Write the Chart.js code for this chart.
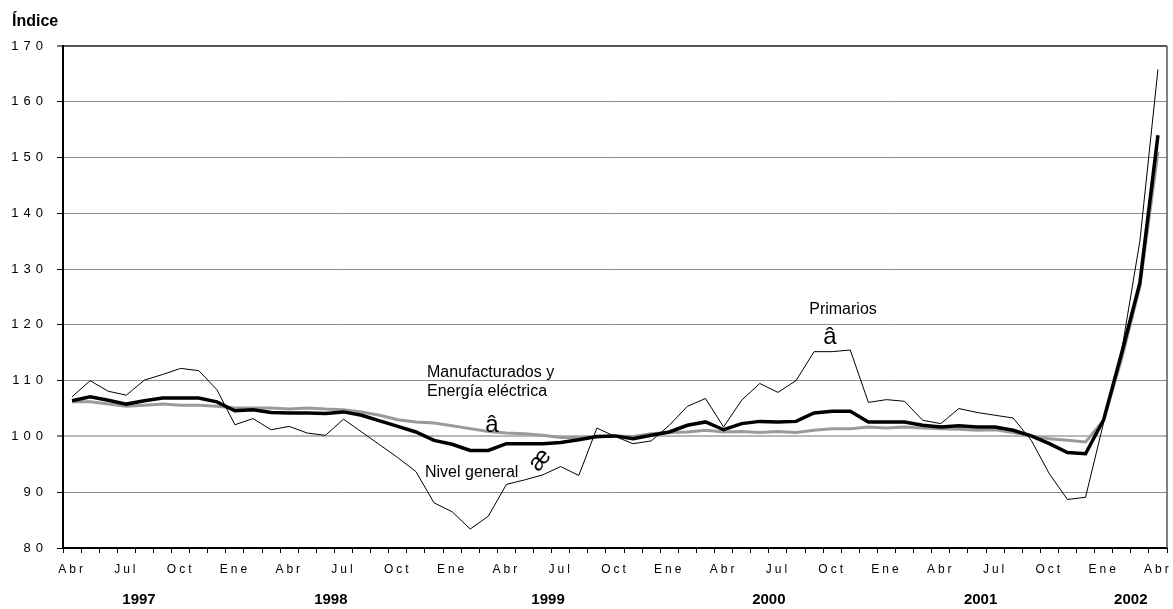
<!DOCTYPE html>
<html><head><meta charset="utf-8">
<script src="https://cdn.jsdelivr.net/npm/chart.js"></script>
<style>html,body{margin:0;padding:0;background:#fff;}</style>
</head><body>
<canvas id="c" width="1173" height="609" style="display:block;width:1173px;height:609px"></canvas>
<script>
// ---- data ----
const months = [
 'Abr','May','Jun','Jul','Ago','Sep','Oct','Nov','Dic',
 'Ene','Feb','Mar','Abr','May','Jun','Jul','Ago','Sep','Oct','Nov','Dic',
 'Ene','Feb','Mar','Abr','May','Jun','Jul','Ago','Sep','Oct','Nov','Dic',
 'Ene','Feb','Mar','Abr','May','Jun','Jul','Ago','Sep','Oct','Nov','Dic',
 'Ene','Feb','Mar','Abr','May','Jun','Jul','Ago','Sep','Oct','Nov','Dic',
 'Ene','Feb','Mar','Abr'];
const years = ['1997','1998','1999','2000','2001','2002'];
const nivelGeneral = [
 106.4,107.1,106.5,105.8,106.4,106.9,106.9,106.9,106.2,
 104.6,104.8,104.3,104.2,104.2,104.1,104.4,103.8,102.8,101.8,100.8,99.3,
 98.6,97.5,97.5,98.7,98.7,98.7,98.9,99.4,100.0,100.1,99.6,100.2,
 100.8,102.0,102.6,101.2,102.3,102.7,102.6,102.7,104.2,104.5,104.5,102.6,
 102.6,102.6,102.0,101.7,101.9,101.7,101.7,101.1,100.1,98.7,97.1,96.9,
 103.0,115.0,127.5,154.0];
const primarios = [
 107.1,110.0,108.1,107.4,110.1,111.1,112.2,111.8,108.4,
 102.1,103.2,101.2,101.8,100.6,100.2,103.1,100.8,98.5,96.2,93.7,88.1,
 86.5,83.4,85.7,91.4,92.2,93.1,94.6,93.0,101.5,100.0,98.7,99.2,
 102.0,105.4,106.8,101.7,106.5,109.5,107.9,110.0,115.2,115.2,115.5,106.1,
 106.6,106.3,102.9,102.3,105.0,104.3,103.8,103.3,99.3,93.3,88.7,89.1,
 102.5,115.5,135.0,165.8];
const manufacturados = [
 106.2,106.2,105.8,105.4,105.6,105.8,105.6,105.6,105.4,
 105.1,105.1,105.1,104.9,105.1,104.9,104.8,104.4,103.8,103.0,102.6,102.4,
 101.9,101.4,100.9,100.6,100.5,100.2,99.8,99.8,99.9,100.1,100.0,100.5,
 100.7,100.8,101.1,100.8,100.9,100.7,100.9,100.7,101.1,101.4,101.4,101.7,
 101.5,101.7,101.5,101.4,101.3,101.1,101.2,100.7,100.1,99.6,99.3,99.0,
 102.9,114.0,126.9,151.0];
const yTicks = [80,90,100,110,120,130,140,150,160,170];

// ---- layout helpers ----
const FONT = '"Liberation Sans", Arial, sans-serif';
const yearPos = [3.7, 14.3, 26.3, 38.5, 50.2, 58.5];

function spaced(scale, sp){
  if (scale._spWrapped) return;
  const orig = scale.drawLabels;
  scale.drawLabels = function(ca){
    const c = this.ctx; c.save(); c.letterSpacing = sp; orig.call(this, ca); c.restore();
  };
  scale._spWrapped = true;
}

const decor = {
  id: 'decor',
  beforeDraw(chart){
    spaced(chart.scales.x, '3px');
    spaced(chart.scales.y, '5px');
  },
  afterDatasetsDraw(chart){
    const c = chart.ctx, a = chart.chartArea;
    c.save();
    c.fillStyle = '#000';
    c.font = '16px ' + FONT;
    c.textAlign = 'left'; c.textBaseline = 'middle';
    c.fillText('Manufacturados y', 427, 373);
    c.fillText('Energía eléctrica', 427, 392);
    c.fillText('Nivel general', 425, 473);
    c.textAlign = 'center';
    c.fillText('Primarios', 843, 310);
    c.font = '24px ' + FONT;
    c.textBaseline = 'alphabetic';
    c.fillText('â', 492, 432);
    c.fillText('â', 830, 344);
    c.translate(540, 460); c.rotate(-50*Math.PI/180);
    c.textBaseline = 'middle';
    c.fillText('æ', 0, 0);
    c.restore();
    // right frame
    c.save();
    c.strokeStyle = '#555'; c.lineWidth = 1.5;
    c.beginPath(); c.moveTo(a.right, a.top); c.lineTo(a.right, a.bottom); c.stroke();
    c.restore();
  },
  afterDraw(chart){
    const c = chart.ctx, xs = chart.scales.x;
    c.save();
    c.fillStyle = '#000';
    c.font = 'bold 16px ' + FONT;
    c.textAlign = 'left'; c.textBaseline = 'middle';
    c.fillText('Índice', 12, 22);
    c.font = 'bold 15px ' + FONT;
    c.textAlign = 'center';
    years.forEach((y, i) => c.fillText(y, xs.getPixelForValue(yearPos[i]), 600));
    c.restore();
  }
};

new Chart(document.getElementById('c'), {
  type: 'line',
  data: {
    labels: months,
    datasets: [
      {label:'Nivel general', data:nivelGeneral, borderColor:'#000', borderWidth:3.5, pointRadius:0, tension:0, order:1},
      {label:'Primarios', data:primarios, borderColor:'#000', borderWidth:1, pointRadius:0, tension:0, order:2},
      {label:'Manufacturados y Energía eléctrica', data:manufacturados, borderColor:'#9a9a9a', borderWidth:3, pointRadius:0, tension:0, order:3}
    ]
  },
  options: {
    responsive:false, animation:false, devicePixelRatio:1,
    layout:{padding:{left:0, right:6, top:46, bottom:0}},
    plugins:{legend:{display:false}, tooltip:{enabled:false}},
    scales:{
      x:{
        type:'category', offset:true,
        grid:{offset:true, drawOnChartArea:false, drawTicks:true, tickLength:5, color:'#000', lineWidth:1},
        border:{color:'#000', width:2},
        ticks:{autoSkip:false, maxRotation:0, minRotation:0, padding:9, color:'#000',
          font:{family:FONT, size:12},
          callback:(v,i)=> i%3===0 ? months[i] : ''},
        afterFit:s=>{ s.height = 61; s.paddingLeft = 0; s.paddingRight = 0; }
      },
      y:{
        min:80, max:170,
        afterBuildTicks:s=>{ s.ticks = yTicks.map(v=>({value:v})); },
        ticks:{padding:9, color:'#000', font:{family:FONT, size:13}},
        grid:{
          color:ctx=> ctx.tick.value===170 ? '#555' : (ctx.tick.value===100 ? '#b8b8b8' : (ctx.tick.value===80 ? 'rgba(0,0,0,0)' : '#8c8c8c')),
          lineWidth:ctx=> ctx.tick.value===170 ? 2 : (ctx.tick.value===100 ? 2 : 1),
          drawTicks:true, tickLength:6, tickColor:'#000', tickWidth:1
        },
        border:{color:'#000', width:2},
        afterFit:s=>{ s.width = 63; s.paddingTop = 0; s.paddingBottom = 0; }
      }
    }
  },
  plugins:[decor]
});
</script>
</body></html>
